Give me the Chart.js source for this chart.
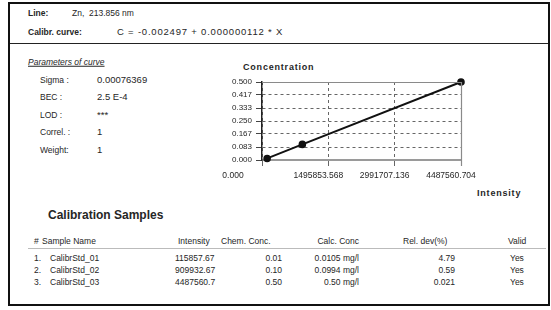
<!DOCTYPE html>
<html><head><meta charset="utf-8">
<script src="https://cdn.jsdelivr.net/npm/chart.js@4/dist/chart.umd.min.js"></script>
<style>
html,body{margin:0;padding:0;background:#fff;}
body{width:551px;height:310px;position:relative;overflow:hidden;font-family:"Liberation Sans",Arial,sans-serif;color:#262626;}
#frame{position:absolute;left:8px;top:2px;width:538px;height:300px;border:2.5px solid #111;}
.t{position:absolute;white-space:nowrap;font-size:8.5px;transform:translateY(-50%);line-height:1;}
.b{font-weight:bold;}
#sep{position:absolute;left:10px;top:43px;width:538px;height:1px;background:#222;}
#hsep{position:absolute;left:28px;top:248px;width:518px;height:1px;background:#bbb;}
#cw{position:absolute;left:210px;top:55px;width:340px;height:150px;}
.r{text-align:right;transform:translate(-100%,-50%);}
</style></head><body>
<div id="frame"></div>
<div class="t b" style="left:28px;top:13px">Line:</div>
<div class="t" style="left:72px;top:13px">Zn,&nbsp; 213.856 nm</div>
<div class="t b" style="left:28px;top:32px">Calibr. curve:</div>
<div class="t" style="left:117px;top:32px;font-size:9.5px;letter-spacing:0.8px">C = -0.002497 + 0.000000112 * X</div>
<div id="sep"></div>
<div class="t" style="left:28px;top:62px;font-size:8.5px;font-style:italic;text-decoration:underline">Parameters of curve</div>
<div class="t b" style="left:243px;top:67px;font-size:9px;letter-spacing:0.8px">Concentration</div>
<div class="t b" style="left:477px;top:193px;font-size:9px;letter-spacing:0.8px">Intensity</div>
<div id="cw"><canvas id="c"></canvas></div>
<div class="t b" style="left:48px;top:215px;font-size:12px">Calibration Samples</div>
<div id="hsep"></div>
<script>
// ---- data ----
const paramLabels = ['Sigma :', 'BEC :', 'LOD :', 'Correl. :', 'Weight:'];
const paramValues = ['0.00076369', '2.5 E-4', '***', '1', '1'];
const sampleNames = ['CalibrStd_01', 'CalibrStd_02', 'CalibrStd_03'];
const intensities = [115857.67, 909932.67, 4487560.7];
const intensityText = ['115857.67', '909932.67', '4487560.7'];
const chemConc = [0.01, 0.10, 0.50];
const calcConc = ['0.0105 mg/l', '0.0994 mg/l', '0.50 mg/l'];
const relDev = ['4.79', '0.59', '0.021'];
const validFlags = ['Yes', 'Yes', 'Yes'];
const xTickValues = [0, 1495853.568, 2991707.136, 4487560.704];
const yTickValues = [0, 0.083, 0.167, 0.250, 0.333, 0.417, 0.500];

// ---- text blocks ----
function txt(s, left, top, cls, extra) {
  const d = document.createElement('div');
  d.className = 't ' + (cls || '');
  d.style.left = left + 'px'; d.style.top = top + 'px';
  if (extra) d.style.cssText += extra;
  d.textContent = s;
  document.body.appendChild(d);
}
const pY = [80, 97, 115, 132, 150];
paramLabels.forEach((l, i) => { txt(l, 40, pY[i]); txt(paramValues[i], 97, pY[i], '', 'font-size:9.5px'); });

const hY = 241, rowY = [258, 270, 282];
txt('#', 34, hY); txt('Sample Name', 42, hY); txt('Intensity', 178, hY);
txt('Chem. Conc.', 221, hY); txt('Calc. Conc', 359, hY, 'r'); txt('Rel. dev(%)', 403, hY); txt('Valid', 508, hY);
sampleNames.forEach((n, i) => {
  const y = rowY[i];
  txt((i + 1) + '.', 34, y); txt(n, 50, y); txt(intensityText[i], 175, y);
  txt(chemConc[i].toFixed(2), 282, y, 'r'); txt(calcConc[i], 359, y, 'r');
  txt(relDev[i], 455, y, 'r'); txt(validFlags[i], 510, y);
});

// ---- chart ----
const frameBox = {
  id: 'frameBox',
  afterDatasetsDraw(chart) {
    const { ctx, chartArea: a, scales } = chart;
    ctx.save();
    ctx.strokeStyle = '#8a8a8a'; ctx.lineWidth = 1.2; ctx.setLineDash([]);
    ctx.beginPath(); ctx.moveTo(a.left, a.top + 0.5); ctx.lineTo(a.right, a.top + 0.5);
    ctx.moveTo(a.right + 0.5, a.top); ctx.lineTo(a.right + 0.5, a.bottom + 6); ctx.stroke();
    ctx.fillStyle = '#262626'; ctx.font = '8.5px "Liberation Sans", Arial, sans-serif';
    ctx.textAlign = 'center'; ctx.textBaseline = 'middle';
    xTickValues.forEach((v, i) => {
      const x = scales.x.getPixelForValue(v) - (i === 0 ? 29 : 10);
      ctx.fillText(v.toFixed(3), x, a.bottom + 16);
    });
    ctx.restore();
  }
};
new Chart(document.getElementById('c'), {
  type: 'scatter',
  data: { datasets: [{
    data: intensities.map((x, i) => ({ x, y: chemConc[i] })),
    showLine: true, borderColor: '#111', backgroundColor: '#111', borderWidth: 2,
    pointRadius: 2.8, pointHoverRadius: 2.8, clip: false
  }] },
  options: {
    responsive: true, maintainAspectRatio: false, animation: false, events: [],
    layout: { padding: { top: 27, right: 89, left: 0, bottom: 0 } },
    plugins: { legend: { display: false }, tooltip: { enabled: false } },
    scales: {
      x: {
        type: 'linear', min: 0, max: 4487560.704,
        afterBuildTicks: s => { s.ticks = xTickValues.map(v => ({ value: v })); },
        afterFit: s => { s.height = 45; },
        ticks: { display: false },
        grid: { color: '#666', lineWidth: 1, tickLength: 6, drawTicks: true, tickColor: '#666' },
        border: { display: true, color: '#9a9a9a', width: 2, dash: [3, 3] }
      },
      y: {
        min: 0, max: 0.5,
        afterBuildTicks: s => { s.ticks = yTickValues.map(v => ({ value: v })); },
        afterFit: s => { s.width = 52; },
        ticks: { color: '#262626', font: { size: 8, family: '"Liberation Sans", Arial, sans-serif' }, padding: 4,
                 callback: v => Number(v).toFixed(3) },
        grid: { color: '#666', lineWidth: 1, tickLength: 6, tickColor: '#444' },
        border: { display: true, color: '#222', width: 1.5, dash: [3, 3] }
      }
    }
  },
  plugins: [frameBox]
});
</script>
</body></html>
